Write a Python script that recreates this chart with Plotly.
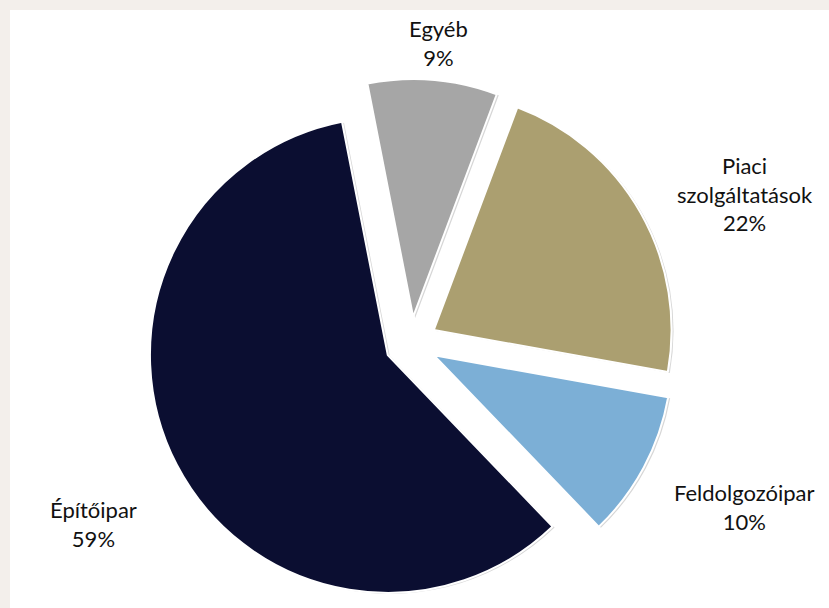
import math
import plotly.graph_objects as go

# ---- data ----
categories = ["Egyéb", "Piaci<br>szolgáltatások", "Feldolgozóipar", "Építőipar"]
values = [8.8, 22.1, 10.0, 59.1]
colors = ["#a6a6a6", "#ab9f70", "#7cafd6", "#0b0e31"]

# ---- layout settings ----
W, H = 829, 608
CX, CY = 411, 343          # pie centre in px
RY = 264                   # half-size of pie box in px
PULL = 0.11
ROT = -11.1
SHADOW_DX, SHADOW_DY = 2, 1
label_dist = [302, 366, 371, 365]     # px from centre
label_nudge = [0.5, 5.5, -2.0, -2.0]  # degrees


def domain(dx=0, dy=0):
    cx, cy = CX + dx, CY + dy
    return dict(x=[(cx - RY) / W, (cx + RY) / W],
                y=[max(0, 1 - (cy + RY) / H), min(1, 1 - (cy - RY) / H)])


fig = go.Figure()

# soft shadow layer
fig.add_trace(go.Pie(
    labels=categories, values=values, sort=False, direction="clockwise",
    rotation=ROT, pull=[PULL] * len(values), domain=domain(SHADOW_DX, SHADOW_DY),
    marker=dict(colors=["rgba(0,0,0,0.16)"] * len(values), line=dict(width=0)),
    textinfo="none", hoverinfo="skip", showlegend=False,
))

fig.add_trace(go.Pie(
    labels=categories, values=values, sort=False, direction="clockwise",
    rotation=ROT, pull=[PULL] * len(values), domain=domain(),
    marker=dict(colors=colors, line=dict(color="white", width=2)),
    textinfo="none", showlegend=False,
))

total = sum(values)
cum = 0
annotations = []
for lab, v, dist, nud in zip(categories, values, label_dist, label_nudge):
    mid = ROT + (cum + v / 2) / total * 360 + nud
    cum += v
    a = math.radians(mid)
    px = CX + dist * math.sin(a)
    py = CY + 1 - dist * math.cos(a)
    annotations.append(dict(
        x=px / W, y=1 - py / H, xref="paper", yref="paper",
        text=f"{lab}<br>{round(v / total * 100)}%", showarrow=False,
        xanchor="center", yanchor="middle", align="center",
        font=dict(family="Lato, sans-serif", size=22, color="#111111"),
    ))

fig.update_layout(
    width=W, height=H,
    margin=dict(l=0, r=0, t=0, b=0),
    paper_bgcolor="#f3efeb",
    plot_bgcolor="white",
    showlegend=False,
    annotations=annotations,
    shapes=[dict(type="rect", xref="paper", yref="paper",
                 x0=10 / W, x1=1, y0=0, y1=1 - 10 / H,
                 fillcolor="white", line=dict(width=0), layer="below")],
)

fig.write_html("out.html", config={"displayModeBar": False},
               post_script="document.body.style.margin='0';")
